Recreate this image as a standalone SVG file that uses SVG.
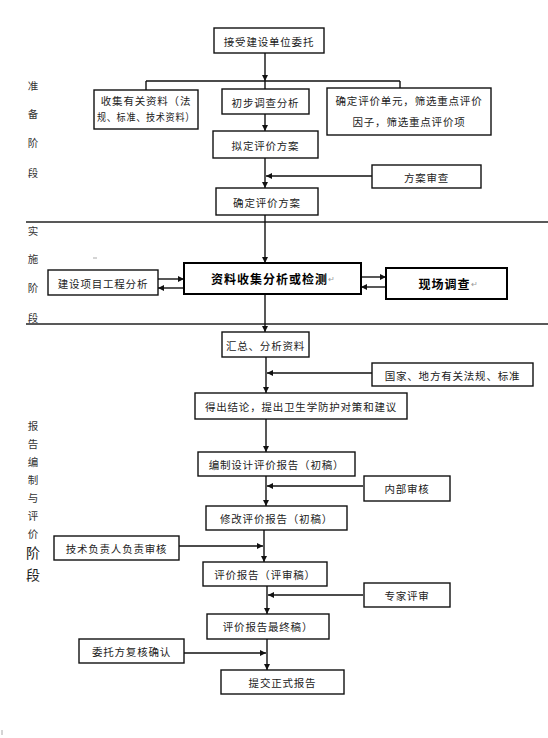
<svg xmlns="http://www.w3.org/2000/svg" width="548" height="738" viewBox="0 0 548 738">
<style>
.bx{fill:#fff;stroke:#111;stroke-width:1.4}
.bxb{fill:#fff;stroke:#000;stroke-width:2}
.t{font-family:"Noto Sans CJK SC","Liberation Sans",sans-serif;font-size:10.5px;fill:#222;text-anchor:middle;dominant-baseline:central;letter-spacing:0.8px}
.tb{font-family:"Noto Sans CJK SC","Liberation Sans",sans-serif;font-size:12px;font-weight:bold;fill:#000;text-anchor:middle;dominant-baseline:central;letter-spacing:1px}
.pm{font-size:8px;font-weight:normal;fill:#999;letter-spacing:0}
.st{font-family:"Noto Sans CJK SC","Liberation Sans",sans-serif;font-size:10.5px;fill:#333;text-anchor:middle;dominant-baseline:central}
.stl{font-family:"Noto Sans CJK SC","Liberation Sans",sans-serif;font-size:14px;fill:#222;text-anchor:middle;dominant-baseline:central}
.c{fill:none;stroke:#111;stroke-width:1.4}
.ca{fill:none;stroke:#111;stroke-width:1.4;marker-end:url(#arr)}
</style>
<defs>
<marker id="arr" viewBox="0 0 8 8" refX="8" refY="4" markerWidth="7" markerHeight="6" markerUnits="userSpaceOnUse" orient="auto">
<path d="M0,0 L8,4 L0,8 z" fill="#111"/>
</marker>
</defs>
<rect width="548" height="738" fill="#fff"/>

<g id="stages">
<line x1="26" y1="222" x2="548" y2="222" stroke="#222" stroke-width="1.4"/>
<line x1="26" y1="324" x2="548" y2="324" stroke="#222" stroke-width="1.4"/>
<text class="st" x="33" y="85">准</text>
<text class="st" x="33" y="113">备</text>
<text class="st" x="33" y="142">阶</text>
<text class="st" x="33" y="172">段</text>
<text class="st" x="33" y="230">实</text>
<text class="st" x="33" y="258">施</text>
<text class="st" x="33" y="287">阶</text>
<text class="st" x="33" y="317">段</text>
<text class="st" x="33" y="425">报</text>
<text class="st" x="33" y="443">告</text>
<text class="st" x="33" y="461">编</text>
<text class="st" x="33" y="479">制</text>
<text class="st" x="33" y="497">与</text>
<text class="st" x="33" y="515">评</text>
<text class="st" x="33" y="533">价</text>
<text class="stl" x="33" y="552">阶</text>
<text class="stl" x="33" y="574">段</text>
<line x1="93" y1="258" x2="97" y2="258" stroke="#aaa" stroke-width="1"/>
<line x1="2" y1="730" x2="2" y2="735" stroke="#aaa" stroke-width="1"/>
</g>

<g id="connectors">
<path class="ca" d="M265,53 V81"/>
<path class="c" d="M146,81 H400 M146,81 V90 M265,81 V89 M400,81 V88"/>
<path class="ca" d="M265,114 V131"/>
<path class="ca" d="M265,158 V188"/>
<path class="ca" d="M372,176 H266"/>
<path class="ca" d="M265,215 V263"/>
<path class="ca" d="M158,279 H184"/>
<path class="ca" d="M184,288 H158"/>
<path class="ca" d="M361,277 H386"/>
<path class="ca" d="M386,287 H361"/>
<path class="ca" d="M265,294 V332"/>
<path class="ca" d="M266,357 V393"/>
<path class="ca" d="M372,373 H267"/>
<path class="ca" d="M266,419 V452"/>
<path class="ca" d="M266,476 V506"/>
<path class="ca" d="M363,486 H267"/>
<path class="ca" d="M264,530 V562"/>
<path class="ca" d="M179,546 H263"/>
<path class="ca" d="M267,586 V614"/>
<path class="ca" d="M363,595 H268"/>
<path class="ca" d="M267,639 V670"/>
<path class="ca" d="M184,653 H266"/>
</g>

<g id="n1"><rect class="bx" x="214" y="28" width="110" height="25"/><text class="t" x="269" y="41">接受建设单位委托</text></g>
<g id="n2"><rect class="bx" x="94" y="90" width="104" height="39"/><text class="t" x="146" y="100">收集有关资料（法</text><text class="t" x="146" y="116" font-size="10" letter-spacing="0" textLength="98" lengthAdjust="spacingAndGlyphs">规、标准、技术资料）</text></g>
<g id="n3"><rect class="bx" x="222" y="89" width="87" height="25"/><text class="t" x="265.5" y="102">初步调查分析</text></g>
<g id="n4"><rect class="bx" x="327" y="88" width="164" height="47"/><text class="t" x="409" y="100">确定评价单元，筛选重点评价</text><text class="t" x="409" y="121">因子，筛选重点评价项</text></g>
<g id="n5"><rect class="bx" x="213" y="131" width="105" height="27"/><text class="t" x="265.5" y="145">拟定评价方案</text></g>
<g id="n6"><rect class="bx" x="372" y="165" width="109" height="23"/><text class="t" x="426.5" y="177">方案审查</text></g>
<g id="n7"><rect class="bx" x="216" y="188" width="102" height="27"/><text class="t" x="267" y="202">确定评价方案</text></g>
<g id="n8"><rect class="bx" x="48" y="270" width="110" height="25"/><text class="t" x="103" y="283">建设项目工程分析</text></g>
<g id="n9"><rect class="bxb" x="184" y="263" width="177" height="31"/><text class="tb" x="273" y="278">资料收集分析或检测<tspan class="pm">↵</tspan></text></g>
<g id="n10"><rect class="bxb" x="386" y="268" width="121" height="31" stroke-width="1.6"/><text class="tb" x="448" y="283">现场调查<tspan class="pm">↵</tspan></text></g>
<g id="n11"><rect class="bx" x="222" y="332" width="87" height="25"/><text class="t" x="265.5" y="345" letter-spacing="0">汇总、分析资料</text></g>
<g id="n12"><rect class="bx" x="372" y="363" width="161" height="23"/><text class="t" x="452.5" y="375">国家、地方有关法规、标准</text></g>
<g id="n13"><rect class="bx" x="195" y="393" width="212" height="26"/><text class="t" x="301" y="406">得出结论，提出卫生学防护对策和建议</text></g>
<g id="n14"><rect class="bx" x="198" y="452" width="157" height="24"/><text class="t" x="276.5" y="464">编制设计评价报告（初稿）</text></g>
<g id="n15"><rect class="bx" x="364" y="476" width="86" height="25"/><text class="t" x="407" y="488">内部审核</text></g>
<g id="n16"><rect class="bx" x="206" y="506" width="141" height="24"/><text class="t" x="276.5" y="518">修改评价报告（初稿）</text></g>
<g id="n17"><rect class="bx" x="54" y="536" width="125" height="24"/><text class="t" x="116.5" y="548">技术负责人负责审核</text></g>
<g id="n18"><rect class="bx" x="203" y="562" width="124" height="24"/><text class="t" x="265" y="574">评价报告（评审稿）</text></g>
<g id="n19"><rect class="bx" x="364" y="583" width="86" height="24"/><text class="t" x="407" y="595">专家评审</text></g>
<g id="n20"><rect class="bx" x="207" y="614" width="122" height="25"/><text class="t" x="268" y="626">评价报告最终稿）</text></g>
<g id="n21"><rect class="bx" x="79" y="639" width="105" height="24"/><text class="t" x="131.5" y="651">委托方复核确认</text></g>
<g id="n22"><rect class="bx" x="221" y="670" width="123" height="24"/><text class="t" x="282.5" y="682">提交正式报告</text></g>
</svg>
